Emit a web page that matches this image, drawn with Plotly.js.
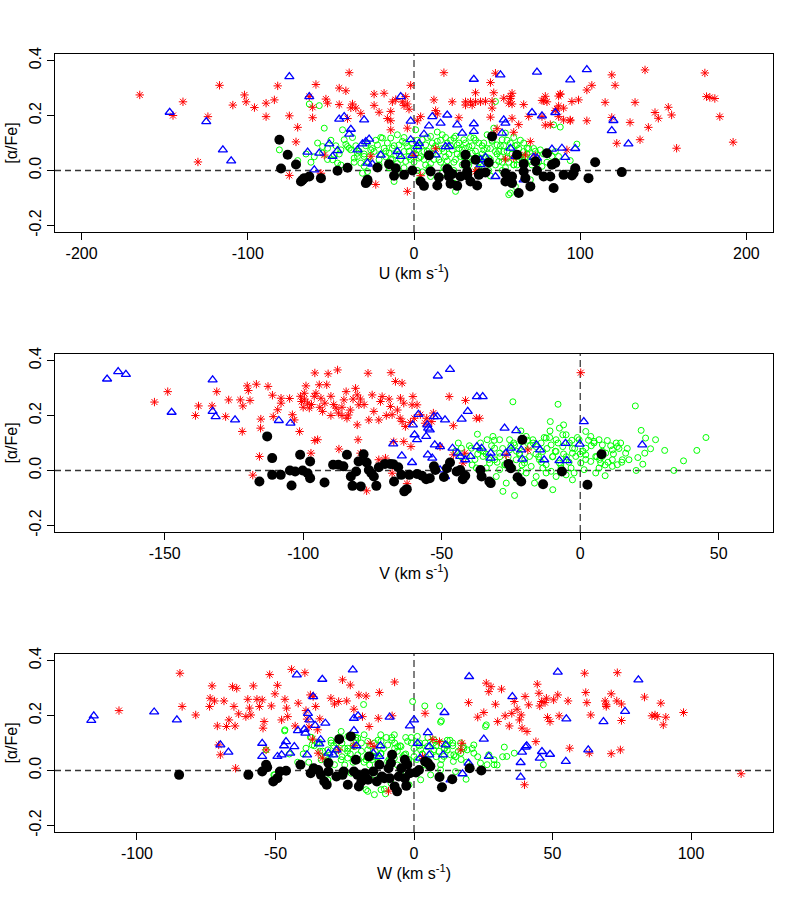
<!DOCTYPE html>
<html>
<head>
<meta charset="utf-8">
<script src="https://cdn.plot.ly/plotly-3.0.1.min.js"></script>
<style>html,body{margin:0;padding:0;background:#fff}#chart{width:800px;height:900px}</style>
</head>
<body>
<div id="chart"></div>
<script>
// ---------------- Panel 1 : U ----------------
const U_thick = [-165,-139,-145,-130,-124,-117,-109,-102,-101,-96,-89,-89,-84,-82,-75,-75,-70,-71,-63,-61,-59,-61,-56,-53,-52,-54,-45,-45,-41,-39,-38,-37,-40,-35,-32,-26,-24,-24,-23,-21,-18,-16,-14,-14,-14,-13,-11,-7,-5,-6,-4,-3,-2,-4,-4,0,2,4,12,13,13,14,18,23,27,31,31,34,35,37,37,40,43,46,48,46,47,47,49,48,50,54,57,58,59,60,58,59,59,60,63,66,67,70,73,77,78,77,79,82,85,86,87,87,88,87,90,94,95,99,104,104,107,115,119,119,121,122,130,133,136,139,141,145,147,153,155,158,175,176,178,181,184,192,94,79,80,88,90,92,69,63,37,55,4,38];
const U_thick_afe = [0.275,0.250,0.200,0.031,0.196,0.310,0.238,0.275,0.250,0.229,0.245,0.196,0.257,0.308,0.199,-0.018,0.157,0.104,0.269,0.192,0.313,0.230,-0.010,0.260,0.245,0.056,0.300,0.240,0.290,0.356,0.228,0.242,0.189,0.227,0.208,0.052,0.237,0.278,-0.051,0.212,0.281,0.189,0.148,0.181,0.215,0.250,0.258,0.250,0.269,0.236,0.242,0.223,0.310,-0.076,0.154,0.055,0.181,0.196,0.257,0.079,0.218,0.206,0.356,0.250,0.192,0.250,0.238,0.250,0.238,0.283,0.250,0.250,0.252,0.320,0.283,0.194,0.252,0.227,0.354,0.132,0.152,0.263,0.245,0.269,0.190,0.139,0.262,0.281,0.242,0.046,0.167,0.240,0.056,0.105,0.053,0.255,0.254,0.196,0.165,0.167,0.218,0.224,0.271,0.235,0.278,0.196,0.184,0.184,0.251,0.257,0.293,0.181,0.310,0.248,0.348,0.193,0.310,0.099,0.175,0.248,0.112,0.366,0.157,0.211,0.190,0.230,0.202,0.081,0.355,0.269,0.266,0.262,0.196,0.103,0.181,0.270,0.250,0.278,0.227,0.075,0.197,0.057,-0.004,0.042,-0.019,0.002];

const U_trans = [-147,-125,-115,-110,-75,-63,-60,-64,-57,-49,-46,-51,-45,-42,-38,-39,-30,-31,-29,-27,-34,-28,-20,-25,-8,-10,-8,-2,-2,-1,2,3,6,9,11,13,16,20,19,21,29,36,36,36,40,40,49,52,54,53,55,58,61,66,71,74,77,83,85,89,91,94,97,104,119,120,129,72,74,43,26];
const U_trans_afe = [0.212,0.178,0.075,0.035,0.342,0.269,0.002,0.067,0.063,0.051,0.072,0.097,0.187,0.196,0.150,0.132,0.184,0.097,0.105,0.114,0.075,0.027,0.056,0.023,0.269,0.069,0.051,0.180,0.112,0.055,0.087,0.099,0.132,0.162,0.196,0.057,0.172,0.202,0.087,0.087,0.136,0.332,0.170,0.142,0.039,0.021,-0.022,0.348,0.184,0.136,0.172,0.081,0.051,-0.034,0.211,0.358,0.199,0.078,0.211,0.081,0.048,0.330,0.080,0.367,0.145,0.182,0.097,0.048,0.045,0.048,0.166];

const U_low = [-81,-76,-71,-80,-68,-66,-63,-67,-56,-46,-40,-29,-28,-28,-22,-15,-12,-6,-1,4,6,9,10,14,15,20,21,22,23,26,31,31,32,32,34,37,38,39,40,43,45,47,55,55,59,59,62,63,66,66,67,70,73,74,78,80,82,83,84,85,90,95,97,96,105,109,125,28,21,-11];
const U_low_afe = [0.112,0.057,0.022,0.007,-0.040,-0.028,-0.022,-0.034,-0.028,-0.001,0.010,-0.046,-0.034,-0.040,0.011,0.023,-0.019,-0.016,0.000,-0.040,-0.056,0.055,-0.004,-0.055,-0.025,0.005,-0.022,-0.048,-0.013,-0.056,0.057,0.023,-0.004,-0.018,-0.040,0.039,-0.055,-0.016,-0.010,-0.007,0.029,0.124,-0.010,-0.040,-0.046,-0.022,0.057,-0.082,-0.004,0.024,-0.028,-0.058,0.033,-0.001,-0.022,0.063,-0.022,0.021,-0.064,0.027,-0.016,-0.018,0.008,-0.010,-0.028,0.030,-0.006,-0.022,-0.004,0.008];

const U_thin = [-54,-43,-42,-55,-52,-48,-44,-40,-38,-36,-34,-32,-30,-31,-28,-26,-24,-22,-21,-19,-18,-16,-15,-14,-13,-11,-10,-9,-7,-6,-5,-4,-3,-1,1,2,3,5,6,7,9,10,12,14,15,17,18,20,21,23,24,25,26,28,29,30,32,33,35,36,38,39,40,42,44,45,47,48,49,50,51,53,54,55,56,57,59,60,62,64,66,68,70,74,76,84,85,49,38,-8,24,3,10,33,
-81,-70,-63,-57,-55,-49,-46,-41,-39,-34,-30,-28,88,98,94,87,58,-12,70,61,77,83,
-20,-17,-12,-8,-5,0,0,2,4,7,8,11,12,15,16,19,22,24,26,27,30,31,34,36,37,41,43,44,46,50,52,53,56,58,61,63,65,68,71,72,75,78,62,-25,-30,-35,-45,-60,5,18,28,45,-15,55,40,20,10,-3,25,14,-20,-28,60,66,80,-10,33,
-65,-62,-58,-50,-47,-37,-33,-27,-23,-17,-13,-9,-6,-2,1,3,6,8,11,13,16,17,19,21,22,25,27,29,31,32,34,35,37,39,41,42,44,46,47,49,51,52,54,56,57,59,61,63,64,67,69,71,73,-52,-44,-36,-29,-21,-14,-6,2,9,17,24,31,39,46,53,60,67];
const U_thin_afe = [0.154,0.148,0.112,0.087,0.081,0.057,0.075,0.087,0.075,0.045,0.063,0.027,0.051,-0.010,0.033,0.075,0.069,0.093,0.039,0.118,0.081,0.100,0.063,0.118,0.081,0.057,0.130,0.093,0.106,0.069,0.033,0.087,0.051,0.100,0.148,0.075,0.045,0.112,0.069,0.093,0.051,0.124,0.081,0.106,0.039,0.130,0.069,0.100,0.009,0.075,0.118,-0.076,0.093,0.051,0.075,0.112,0.033,0.087,0.063,0.118,0.051,0.100,0.021,0.075,0.130,0.045,0.106,0.154,0.069,0.093,0.033,0.112,0.069,0.136,0.045,-0.088,0.081,0.021,0.093,0.051,0.069,0.081,0.033,0.057,0.075,0.166,0.069,0.251,0.003,-0.010,-0.046,-0.034,-0.022,-0.010,
0.075,0.036,0.242,0.236,0.063,0.039,0.027,0.095,0.081,0.051,0.015,-0.004,0.158,0.096,0.036,0.051,-0.082,-0.040,-0.034,-0.058,0.015,0.051,
0.06,0.05,0.09,0.04,0.10,0.03,0.08,0.11,0.05,0.02,0.07,0.10,0.04,0.07,0.11,0.05,0.09,0.03,0.06,0.10,0.05,0.08,0.12,0.04,0.07,0.09,0.05,0.03,0.08,0.06,0.09,0.03,0.07,0.10,0.05,0.08,0.04,0.06,0.05,0.08,0.03,0.06,0.02,0.08,0.06,0.09,0.06,0.05,-0.005,0.01,-0.02,0.0,0.01,0.01,0.045,0.035,0.025,0.07,0.125,0.14,0.12,0.10,0.12,0.10,0.03,0.025,0.02,
0.06,0.03,0.10,0.11,0.09,0.12,0.07,0.05,0.11,0.07,0.04,0.06,0.12,0.04,0.06,0.09,0.04,0.12,0.06,0.09,0.03,0.08,0.12,0.06,0.11,0.04,0.08,0.02,0.10,0.06,0.04,0.09,0.11,0.03,0.06,0.10,0.08,0.04,0.11,0.02,0.07,0.05,0.09,0.11,0.03,0.06,0.09,0.04,0.11,0.05,0.08,0.02,0.07,0.04,0.02,0.03,0.09,0.02,0.04,0.01,0.00,0.01,-0.01,0.00,-0.01,0.01,-0.02,0.00,0.02,0.03];

// ---------------- Panel 2 : V ----------------
const V_thick = [-153.7,-148.9,-138.9,-137.8,-132.9,-131.2,-128,-126.9,-122.7,-121.8,-122,-120.2,-119.8,-119.2,-116.9,-115.3,-115.4,-115.8,-118.2,-112.7,-111.1,-109.2,-108,-108,-110.8,-104.9,-103.9,-103.2,-101.3,-99,-100.6,-99.6,-98.4,-97.8,-95.8,-95.4,-94.2,-93.6,-93,-92.2,-91.5,-91,-87.6,-88.1,-87.3,-85.3,-84.5,-84.2,-83.7,-81.1,-80.5,-79.9,-79.3,-80.5,-80.2,-76.6,-75.1,-76.3,-74.5,-72.7,-71.5,-72.1,-68.3,-68.5,-67.9,-66.7,-64.3,-64.9,-63.7,-64.3,-63.1,-60.4,-60.7,-58.9,-57.7,-59.9,-61.3,-77.1,-97.2,-95.8,-87.1,-79.3,-62.5,-72.7,-70.3,-67.3,-63.7,-61.1,-67.9,-94.8,-53,-55.4,-53.6,-56,-47.3,-41.4,-37.5,-36.3,-45.8,-50.6,-45.8,-42.3,-41.7,-18.9,-26.7,0.2,
-101,-99.5,-97,-96,-94,-90,-89,-86,-83,-82,-78,-70,-69,-66,-65,-86,-100,-90];
const V_thick_afe = [0.249,0.287,0.200,0.235,0.235,0.287,0.196,0.257,0.257,0.235,0.142,0.308,0.291,0.255,0.314,0.187,0.154,0.051,-0.017,0.306,0.274,0.221,0.263,0.245,0.196,0.262,0.203,0.184,0.142,0.308,0.251,0.281,0.245,0.227,0.355,0.281,0.312,0.263,0.215,0.245,0.312,0.352,0.366,0.227,0.209,0.257,0.287,0.190,0.202,0.299,0.275,0.239,0.260,0.166,0.112,0.354,0.275,0.184,0.215,0.184,0.269,0.251,0.356,0.233,0.203,0.324,0.318,0.263,0.245,0.178,0.160,0.269,0.239,0.239,0.203,0.190,0.175,-0.074,0.063,0.109,0.078,0.063,-0.048,0.039,0.045,0.105,0.105,0.087,-0.010,0.112,0.209,0.190,0.178,0.172,0.269,0.255,0.190,0.190,0.163,0.087,0.057,0.027,0.063,0.075,0.057,0.356,
0.27,0.26,0.24,0.27,0.23,0.27,0.24,0.23,0.22,0.26,0.24,0.20,0.26,0.22,0.19,0.20,0.23,0.20];

const V_trans = [-170.8,-166.8,-164,-132.7,-132.7,-131.6,-147.5,-124.6,-108.8,-104.6,-51.4,-47,-37.3,-35.2,-40.6,-42.8,-48.8,-52.8,-58.4,-60.4,-59.8,-58.9,-67.5,-64.4,-60.7,-55,-52.5,-50.6,-53.4,-50.6,-48.8,-46.1,-44.2,-41.5,-37.3,-35.6,-32.3,-32.3,-26.8,-27.3,-23.1,-25,-21.3,-15.8,-14.5,-20.9,-13,-7.5,-4.8,-5.3,1.3,22.4,-0.2,-55.6,-54.3,-51.6,-55.2,-54.9,-43.3,-39.6];
const V_trans_afe = [0.333,0.360,0.350,0.330,0.215,0.196,0.212,0.184,0.182,0.172,0.344,0.368,0.269,0.269,0.215,0.187,0.184,0.196,0.204,0.166,0.130,0.112,0.097,0.053,0.029,0.057,0.093,0.087,0.045,0.002,-0.022,0.081,0.063,0.039,0.087,0.081,0.063,0.045,0.063,0.154,0.145,0.081,0.075,0.093,0.075,0.041,0.039,0.036,0.036,0.099,0.178,0.093,0.096,0.124,0.148,0.196,0.166,0.154,0.051,0.051];

const V_low = [-113,-115.8,-111.2,-111.2,-108.1,-104.8,-104.2,-102.9,-101.1,-100.2,-98.4,-97.5,-97.5,-92.3,-89.2,-87.3,-85.5,-84.2,-82.8,-82.2,-80.9,-80,-79.2,-78.2,-77.1,-76.3,-75.4,-74.5,-73.6,-72.7,-70.5,-68.6,-67.5,-67.2,-65.7,-64.6,-63.5,-62.6,-61.7,-58.9,-57.1,-55.6,-54.3,-52.8,-52.3,-49.2,-47,-44.6,-42.4,-41.5,-36,-35.6,-32.8,-32.3,-25.9,-25,-22.6,-20.9,-21.3,-13.4,-6.6,2.6,7.7,-48.1,-43.3];
const V_low_afe = [0.124,-0.040,0.045,-0.016,-0.016,0,-0.055,-0.004,0.057,0,-0.010,0.033,-0.028,-0.044,0.021,0.021,0.015,0.057,-0.022,-0.056,-0.004,0.033,-0.058,0.059,0.029,0.002,-0.010,-0.022,-0.056,0.012,0.024,0.024,0.023,-0.040,0.012,-0.016,-0.076,-0.068,-0.016,-0.013,-0.019,-0.032,-0.028,0.015,0.002,-0.024,0.029,-0.004,-0.032,-0.019,0.002,-0.022,-0.040,-0.046,0.024,0.008,-0.025,0.112,-0.040,-0.050,-0.004,-0.052,0.059,0.008,0.002];

const V_thin = [-24.3,-8,19.9,-10.8,-7.5,-6,-10.9,-21.4,-37.1,-33.6,-31.5,-29.1,-25.5,-23.7,-21.3,-19.5,-17.1,-15.9,-14.1,-12.3,-10.5,-8.7,-6.3,-5.1,-3.9,-2.8,-0.4,2,3.8,5,6.8,8,9.8,11.6,13.4,14.6,16.4,17.6,13.4,22,23.6,25.4,27.2,30.5,37.3,42.1,45.4,33.8,20.2,22.6,20.8,9,5.6,-2.8,-9.9,-16.5,-23.7,-27.9,-26.7,-30.3,-29.1,-32.7,-35.1,-36.3,-39.3,-42.9,-41.1,-37.5,-33.9,-23.1,-20.1,-18.3,-14.7,-12.3,-9.9,-7.5,-5.1,-3.3,-1.6,0.2,2,3.8,5.6,7.4,9.2,11.6,-15.9,-12.3,-8.7,-5.1,-23.1,-19.5,-25.5,-21.9,-13.5,-8.7,-2.8,2,-29.1,-30.9,-27.3,-24.3,-21.3,-17.7,-13.5,-10.5,-6.9,-2.2,1.4,6.8,11.6,15.2,8,-30.9,-6.3,-20.5,23.3,
-45,-43,-40,-38,-36,-34,-32,-30,-28,-26,-24,-22,-20,-18,-16,-14,-12,-10,-8,-6,-4,-2,0,2,4,6,8,10,12,14,-44,-39,-35,-31,-27,-23,-19,-15,-11,-7,-3,1,5,9,13,17,-37,-29,-21,-13,-5,3,11,-33,-25,-17,-9,-1,7,15];
const V_thin_afe = [0.250,0.241,0.235,0.178,0.154,0.166,0.144,0.144,0.132,0.112,0.124,0.112,0.112,0.093,0.106,0.124,0.112,0.087,0.100,0.118,0.093,0.112,0.087,0.130,0.100,0.081,0.112,0.142,0.124,0.106,0.112,0.093,0.109,0.075,0.087,0.100,0.063,0.039,0.021,0.146,0.118,0.079,0.112,0.073,0.035,0.073,0.120,0.0,0.0,0.023,0.047,-0.019,-0.009,-0.034,-0.070,-0.046,-0.091,-0.076,-0.046,-0.022,0.003,0.027,0.051,0.075,0.081,0.081,0.051,0.009,0.009,0.039,0.027,0.051,0.039,0.021,0.051,0.027,0.039,0.009,0.051,0.027,0.057,0.033,0.051,0.027,0.063,0.039,-0.022,-0.009,-0.022,-0.016,-0.028,-0.009,0.075,0.063,0.069,0.069,0.063,0.081,0.063,0.039,0.021,0.009,-0.003,0.015,0.009,-0.003,0.009,-0.009,0.003,0.009,0.015,0.039,0.051,0.081,0.130,0.087,0.063,
0.07,0.05,0.09,0.04,0.10,0.06,0.09,0.03,0.08,0.05,0.10,0.06,0.04,0.09,0.06,0.03,0.08,0.05,0.10,0.06,0.03,0.08,0.06,0.04,0.09,0.05,0.07,0.03,0.06,0.08,0.10,0.02,0.07,0.11,0.02,0.07,0.11,0.05,0.12,0.02,0.11,0.07,0.10,0.02,0.10,0.08,0.06,0.05,0.02,0.12,0.05,0.11,0.09,0.04,0.09,0.10,0.07,0.12,0.04,0.03];

// ---------------- Panel 3 : W ----------------
const W_thick = [-106.5,-84.5,-83.7,-78.8,-73.6,-72.9,-73.8,-72,-71,-70.5,-69.9,-68.6,-67.7,-66.8,-65.5,-65,-64.6,-64,-64.4,-63.3,-60.7,-60,-59.4,-58.9,-58,-56.7,-55.8,-54.8,-54.5,-54.1,-53.4,-52.1,-51.5,-50.2,-49.3,-47.8,-46.6,-45.6,-46,-44.2,-42.9,-41.8,-39.4,-39,-38.6,-37.9,-37.4,-36.4,-36.6,-35.5,-34.8,-34,-33.1,-30,-28.7,-27.2,-25.8,-24.3,-23,-21.7,-19.9,-18.6,-17.3,-16.2,-14.4,-12.9,-12.5,-9.2,-7.9,-7,-27.2,-34.6,-21.7,-15.8,3.1,4,6.8,9.2,16.9,17.3,19.7,23,25.2,26.1,27,27.8,29.4,30.2,31.6,32.9,34.4,35.3,36.2,37.2,38.1,38.7,39,40.1,40.8,39.9,41.4,44,44.5,45.1,45.4,46,47.3,47.8,48.2,49.1,50.4,51.9,52.4,55.6,56.2,61.6,62,62.4,63.8,63.3,69,69.4,69.4,71.2,71.2,73.4,73.2,74.5,74.9,74.9,83.2,85.9,87,87.8,89.1,90,90.9,97.3,118.1];
const W_thick_afe = [0.218,0.354,0.233,0.202,0.263,0.308,0.233,0.253,0.162,0.093,0.057,0.253,0.160,0.184,0.305,0.233,0.162,0.299,0.008,0.206,0.196,0.259,0.227,0.202,0.308,0.259,0.233,0.257,0.154,0.178,0.075,0.349,0.235,0.279,0.310,0.184,0.259,0.196,0.227,0.368,0.162,0.245,0.356,0.218,0.187,0.158,0.275,0.269,0.114,0.233,0.148,0.188,0.045,0.263,0.242,0.251,0.330,0.253,0.311,0.223,0.275,0.196,0.271,0.160,0.087,0.190,0.284,-0.075,0.199,0.322,0.075,0.063,0.090,0.099,0.051,0.208,0.113,0.105,0.075,0.099,0.247,0.194,0.211,0.318,0.287,0.305,0.241,0.178,0.296,0.199,0.162,0.208,0.251,0.223,0.184,0.202,0.154,0.269,0.142,-0.052,0.239,0.105,0.314,0.281,0.235,0.251,0.247,0.263,0.193,0.178,0.257,0.275,0.199,0.253,0.081,0.354,0.284,0.247,0.202,0.063,0.253,0.239,0.233,0.279,0.061,0.356,0.253,0.075,0.242,0.182,0.267,0.199,0.202,0.196,0.245,0.166,0.194,0.211,-0.012];

const W_trans = [-116.5,-115.6,-93.8,-85.6,-69.9,-67,-54.8,-54.8,-49.3,-47.8,-46.9,-46.2,-44.7,-43.2,-42.3,-41.9,-39.6,-39.2,-38.6,-38.3,-37.7,-36.4,-35.7,-34.2,-33.7,-33.1,-32,-30.9,-29.1,-28,-22.1,-21.7,-21.7,-20.8,-20.2,-14.7,-12.5,-12.1,-8.8,-1.5,0,1.3,2.2,5,5.5,5.5,11,11.4,10.5,13.2,17.5,19.9,19.7,25.2,27,35.5,38.5,38.5,39,40.3,40.7,45.4,46.2,49.1,51.9,55,54.8,62.9,68.4,76.2,81];
const W_trans_afe = [0.182,0.199,0.213,0.184,0.093,0.067,0.099,0.051,0.051,0.057,0.090,0.105,0.063,0.087,0.348,0.145,0.150,0.136,0.057,0.208,0.184,0.269,0.164,0.097,0.112,0.332,0.172,0.063,0.057,0.075,0.366,0.190,0.145,0.090,0.199,0.063,0.051,0.090,0.194,0.162,0.184,0.099,0.045,0.138,0.087,0.057,0.211,0.093,0.057,-0.034,-0.012,0.342,0.027,0.114,0.051,0.269,0.029,-0.024,0.067,0.085,0.090,0.045,0.069,0.059,0.358,0.188,0.033,0.075,0.178,0.215,0.330];

const W_low = [-84.8,-59.8,-54.8,-53.4,-53,-50.8,-49.3,-48.4,-46.2,-41,-37.3,-36.2,-33.6,-34.6,-32.4,-31.5,-30.9,-30.9,-28,-27,-25.8,-25.4,-23.9,-22.8,-21.7,-21,-20.4,-19.9,-19,-17.7,-16.6,-16.2,-14.7,-13.4,-12.5,-11.6,-10.7,-9.2,-8.3,-7.9,-7,-6.1,-5.5,-4.6,-3.3,-2.8,-2.4,-1.5,0.7,1.8,4,5,5.9,9.2,10.1,13.8,20.1,24.3,-8.8,-3.3];
const W_low_afe = [-0.016,-0.016,-0.004,0.021,0.012,-0.040,-0.028,-0.004,-0.001,0.021,-0.010,0.008,-0.016,0.002,-0.040,-0.052,-0.004,0.027,-0.022,0.114,-0.016,-0.004,-0.052,0.124,-0.004,0.039,-0.016,-0.058,-0.040,-0.010,-0.034,0.051,-0.004,-0.040,0.021,-0.022,-0.028,0.008,0.027,0.057,-0.058,-0.076,-0.022,0.008,0.039,-0.056,0.021,-0.010,-0.007,0.002,0.033,0.027,0.015,-0.024,-0.061,-0.032,0.008,0.0,-0.028,-0.028];

const W_thin = [-18.2,-0.5,3.9,9.6,-46.7,-37.4,-26.3,-23.9,-20.3,-29.9,-34.1,-31.1,-27.5,-21.5,-16.7,-14.3,-11.9,-9.5,-7.1,-4.7,-2.3,1.2,4.8,7.2,9.6,12,14.4,16.8,19.2,21.6,24,26.4,9.6,6,15,4.8,0,-3.5,-7.1,-11.9,-14.3,-17.3,-20.3,-23.9,-26.3,-28.7,-31.7,-33.5,-17.3,-14.3,-8.3,-11.9,-22.7,-14.3,-4.7,-1.8,2.4,9.6,-31.1,-50.3,-9.5,-16.7,-23.9,-5.9,2.4,7.2,10.8,21.6,9.9,9.2,25.8,26.1,32.6,33.5,36.2,46.7,28.9,28.9,27,13.2,17.8,16.9,14.2,18.8,-16.7,-10.7,-10.3,-46.6,-50.6,-53.4,-39,-36.8,
-40,-36,-32,-28,-24,-20,-16,-12,-8,-4,0,4,8,12,16,-38,-34,-30,-26,-22,-18,-14,-10,-6,-2,2,6,10,14,18,-25,-19,-13,-7,-1,5,11,-29,-21,-15,-9,-3,3,
-35,-31,-27,-23,-19,-15,-11,-7,-3,1,5,9,13,17,21,-33,-29,-25,-21,-17,-13,-9,-5,-1,3,7,11,15,19,23,-37,-26,-16,-6,4,14,-22,-12,-2,8,-45,-42,30,32,-18,-8,2,12];
const W_thin_afe = [0.240,0.251,0.235,0.176,0.144,0.121,0.142,0.124,0.118,0.100,0.102,0.075,0.075,0.087,0.106,0.100,0.106,0.093,0.130,0.087,0.106,0.124,0.087,0.075,0.100,0.075,0.057,0.100,0.075,0.063,0.027,0.021,0.021,-0.016,-0.004,0.039,0.051,0.057,0.045,0.063,0.051,0.039,0.057,0.045,0.039,0.021,0.051,0.039,-0.070,-0.088,-0.046,-0.070,-0.010,-0.016,-0.004,-0.052,-0.034,0.002,-0.034,-0.016,0.033,0.075,0.081,0.087,0.075,0.112,0.051,0.093,0.181,0.235,0.160,0.166,0.085,0.051,0.063,0.021,0.021,0.039,0.057,0.057,0.087,0.063,0.033,-0.032,-0.076,-0.068,-0.085,0.148,-0.016,0.075,0.081,0.093,
0.06,0.09,0.05,0.10,0.07,0.04,0.09,0.06,0.11,0.05,0.08,0.10,0.05,0.09,0.07,0.03,0.07,0.11,0.05,0.09,0.03,0.07,0.12,0.07,0.03,0.09,0.06,0.04,0.10,0.08,0.02,0.07,0.03,0.08,0.10,0.02,0.08,0.06,0.11,0.04,0.01,0.12,0.06,
0.10,0.04,0.12,0.06,0.10,0.05,0.08,0.10,0.06,0.04,0.12,0.07,0.11,0.04,0.08,0.07,0.09,0.08,0.12,0.05,0.11,0.04,0.09,0.12,0.06,0.10,0.08,0.05,0.03,0.05,0.12,0.10,0.02,0.02,0.02,0.09,0.03,0.13,0.04,0.09,0.06,0.03,0.02,0.05,0.13,0.12,0.10,0.11];

// ---------------- axis labels ----------------
const yTickVals = [-0.2, 0.0, 0.2, 0.4];
const yTickText = ["-0.2", "0.0", "0.2", "0.4"];
const uTickVals = [-200, -100, 0, 100, 200];
const uTickText = ["-200", "-100", "0", "100", "200"];
const vTickVals = [-150, -100, -50, 0, 50];
const vTickText = ["-150", "-100", "-50", "0", "50"];
const wTickVals = [-100, -50, 0, 50, 100];
const wTickText = ["-100", "-50", "0", "50", "100"];

const FONT = "Liberation Sans, Arial, Helvetica, sans-serif";

function groupTraces(xa, ya, thin, thinY, thick, thickY, trans, transY, low, lowY) {
  return [
    {x: thin, y: thinY, xaxis: xa, yaxis: ya, type: 'scatter', mode: 'markers',
     marker: {symbol: 'circle-open', size: 6, color: '#00FF00', line: {width: 1, color: '#00FF00'}}},
    {x: thick, y: thickY, xaxis: xa, yaxis: ya, type: 'scatter', mode: 'markers',
     marker: {symbol: 'asterisk-open', size: 7, color: '#FF0000', line: {width: 1, color: '#FF0000'}}},
    {x: trans, y: transY, xaxis: xa, yaxis: ya, type: 'scatter', mode: 'markers',
     marker: {symbol: 'triangle-up-open', size: 8, color: '#0000FF', line: {width: 1.3, color: '#0000FF'}}},
    {x: low, y: lowY, xaxis: xa, yaxis: ya, type: 'scatter', mode: 'markers',
     marker: {symbol: 'circle', size: 10, color: '#000000', line: {width: 0}}}
  ];
}

const data = [].concat(
  groupTraces('x', 'y', U_thin, U_thin_afe, U_thick, U_thick_afe, U_trans, U_trans_afe, U_low, U_low_afe),
  groupTraces('x2', 'y2', V_thin, V_thin_afe, V_thick, V_thick_afe, V_trans, V_trans_afe, V_low, V_low_afe),
  groupTraces('x3', 'y3', W_thin, W_thin_afe, W_thick, W_thick_afe, W_trans, W_trans_afe, W_low, W_low_afe)
);

function xAxis(range, vals, text, title, anchor) {
  return {
    range: range, anchor: anchor, domain: [0, 1],
    tickmode: 'array', tickvals: vals, ticktext: text,
    ticks: 'outside', ticklen: 7, tickwidth: 1, tickcolor: '#000',
    showline: true, linecolor: '#000', linewidth: 1, mirror: true,
    showgrid: false, zeroline: false,
    tickfont: {family: FONT, size: 16, color: '#000'},
    title: {text: title, font: {family: FONT, size: 16, color: '#000'}, standoff: 6}
  };
}
function yAxis(domain, anchor) {
  return {
    range: [-0.224, 0.424], domain: domain, anchor: anchor,
    tickmode: 'array', tickvals: yTickVals, ticktext: yTickText, tickangle: -90,
    ticks: 'outside', ticklen: 7, tickwidth: 1, tickcolor: '#000',
    showline: true, linecolor: '#000', linewidth: 1, mirror: true,
    showgrid: false, zeroline: false,
    tickfont: {family: FONT, size: 16, color: '#000'},
    title: {text: '[α/Fe]', font: {family: FONT, size: 16, color: '#000'}, standoff: 4}
  };
}

function refLines(xa, ya) {
  return [
    {type: 'line', xref: xa + ' domain', yref: ya, x0: 0, x1: 1, y0: 0, y1: 0,
     line: {color: '#333', width: 1.4, dash: '6px,4px'}, layer: 'below'},
    {type: 'line', xref: xa, yref: ya + ' domain', x0: 0, x1: 0, y0: 0, y1: 1,
     line: {color: '#000', width: 1, dash: '7px,4px'}, layer: 'below'}
  ];
}

const layout = {
  width: 800, height: 900,
  margin: {l: 55, r: 27, t: 54, b: 68},
  paper_bgcolor: '#fff', plot_bgcolor: '#fff',
  showlegend: false,
  font: {family: FONT, size: 16, color: '#000'},
  xaxis: xAxis([-216, 216], uTickVals, uTickText, 'U (km s<sup>-1</sup>)', 'y'),
  yaxis: yAxis([0.7712, 1], 'x'),
  xaxis2: xAxis([-189.6, 69.6], vTickVals, vTickText, 'V (km s<sup>-1</sup>)', 'y2'),
  yaxis2: yAxis([0.3856, 0.6144], 'x2'),
  xaxis3: xAxis([-129.6, 129.6], wTickVals, wTickText, 'W (km s<sup>-1</sup>)', 'y3'),
  yaxis3: yAxis([0, 0.2288], 'x3'),
  shapes: [].concat(refLines('x', 'y'), refLines('x2', 'y2'), refLines('x3', 'y3'))
};

Plotly.newPlot('chart', data, layout, {displayModeBar: false, staticPlot: true});
</script>
</body>
</html>
